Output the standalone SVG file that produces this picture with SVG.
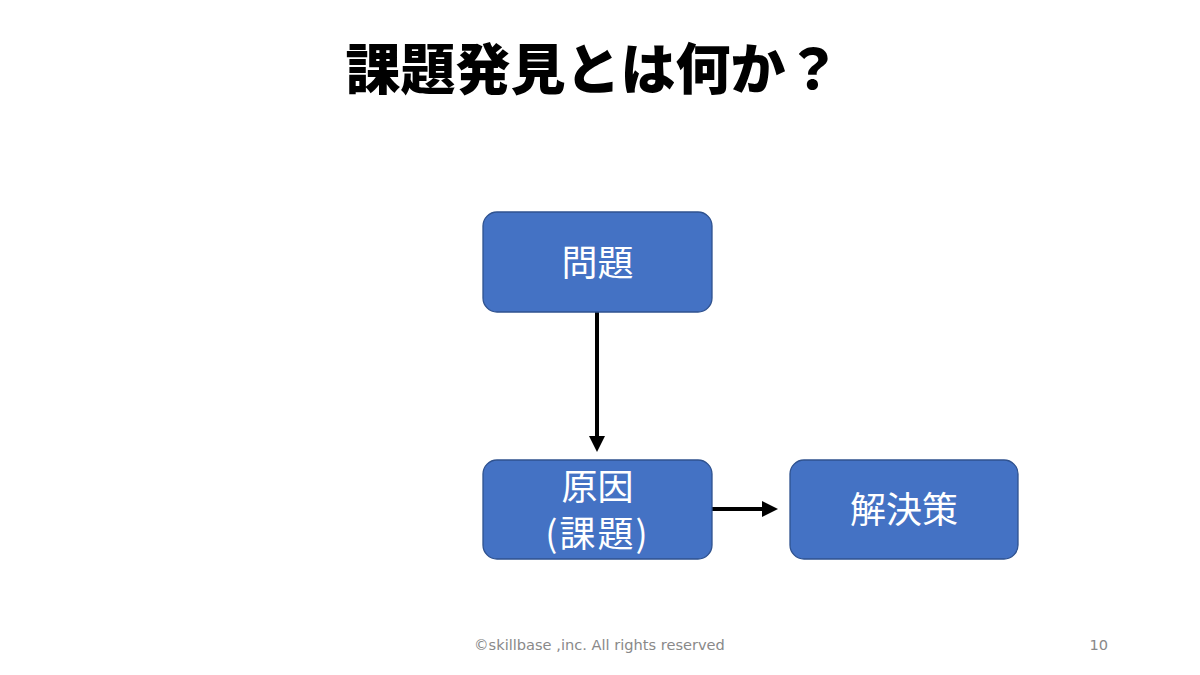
<svg xmlns="http://www.w3.org/2000/svg" width="1200" height="675" viewBox="0 0 1200 675">
<style>
.box{fill:#4472C4;stroke:#2F528F;stroke-width:1.3}
.lbl{font-family:"Noto Sans CJK JP","Noto Sans",sans-serif;font-size:36px;fill:#fff;text-anchor:middle}
.title{font-family:"Noto Sans CJK JP",sans-serif;font-size:55px;font-weight:900;fill:#000;text-anchor:middle}
.foot{font-family:"DejaVu Sans","Noto Sans",sans-serif;font-size:14.6px;fill:#898989}
.conn{stroke:#000;stroke-width:4;fill:none}
</style>
<defs>
<marker id="ah" viewBox="0 0 16 16" refX="0" refY="8" markerWidth="16" markerHeight="16" orient="auto" markerUnits="userSpaceOnUse">
<path d="M0,0 L16,8 L0,16 z" fill="#000"/>
</marker>
</defs>
<rect width="1200" height="675" fill="#fff"/>
<text class="title" x="593" y="89">課題発見とは何か？</text>
<g id="connectors">
<line class="conn" x1="597" y1="312" x2="597" y2="436" marker-end="url(#ah)"/>
<line class="conn" x1="712" y1="509" x2="762" y2="509" marker-end="url(#ah)"/>
</g>
<g id="node-problem">
<rect class="box" x="483" y="212" width="229" height="100" rx="14"/>
<text class="lbl" x="597.5" y="276">問題</text>
</g>
<g id="node-cause">
<rect class="box" x="483" y="460" width="229" height="99" rx="14"/>
<text class="lbl" x="597.5" y="500">原因</text>
<text class="lbl" x="597.5" y="547" letter-spacing="2">(課題)</text>
</g>
<g id="node-solution">
<rect class="box" x="790" y="460" width="228" height="99" rx="14"/>
<text class="lbl" x="904" y="523">解決策</text>
</g>
<text class="foot" x="474" y="650">©skillbase ,inc. All rights reserved</text>
<text class="foot" x="1108" y="650" text-anchor="end">10</text>
</svg>
